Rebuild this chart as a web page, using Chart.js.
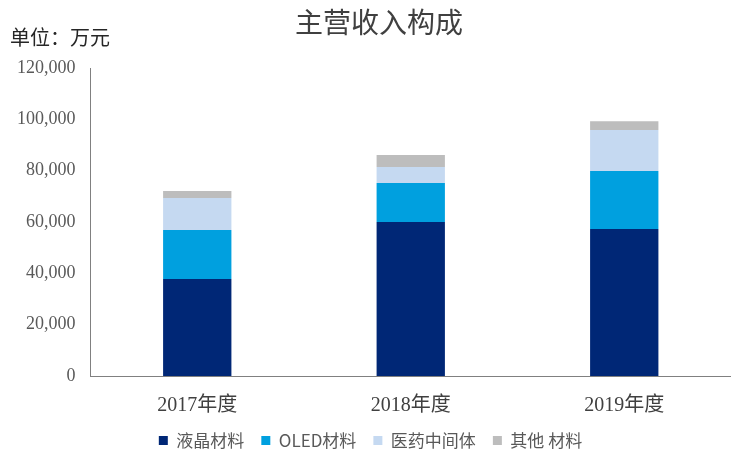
<!DOCTYPE html>
<html>
<head>
<meta charset="utf-8">
<script src="https://cdn.jsdelivr.net/npm/chart.js@4/dist/chart.umd.min.js"></script>
<style>
  html, body { margin: 0; padding: 0; background: #fff; }
  #wrap { width: 731px; height: 450px; }
</style>
</head>
<body>
<div id="wrap"><canvas id="barChart" width="731" height="450"></canvas></div>
<script>
// データ
const years = ["2017年度", "2018年度", "2019年度"];
const lcd = [37800, 60000, 57300];
const oled = [19100, 15200, 22600];
const pharma = [12450, 6200, 15900];
const other = [2750, 4700, 3500];

const serif = "'Liberation Serif', 'Noto Sans CJK SC', serif";
const cjk = "'Noto Sans CJK SC', sans-serif";

// タイトルと単位
const titlePlugin = {
    id: "titles",
    afterDraw(chart) {
        const c = chart.ctx;
        c.save();
        c.fillStyle = "#404040";
        c.font = "28px " + cjk;
        c.textAlign = "center";
        c.textBaseline = "middle";
        c.fillText("主营收入构成", 379, 22);
        c.font = "20px " + cjk;
        c.textAlign = "left";
        c.fillStyle = "#262626";
        c.fillText("单位：万元", 10, 37);
        c.restore();
    },
};

new Chart(document.getElementById("barChart"), {
    type: "bar",
    data: {
        labels: years,
        datasets: [
            { label: "液晶材料", data: lcd, backgroundColor: "#002776" },
            { label: "OLED材料", data: oled, backgroundColor: "#00a0df" },
            { label: "医药中间体", data: pharma, backgroundColor: "#c5d9f1" },
            { label: "其他 材料", data: other, backgroundColor: "#bdbdbd" },
        ],
    },
    options: {
        responsive: false,
        animation: false,
        layout: { padding: { top: 68, right: 0, left: 10, bottom: -9 } },
        datasets: { bar: { barPercentage: 0.64, categoryPercentage: 0.5 } },
        plugins: {
            tooltip: { enabled: false },
            legend: {
                position: "bottom",
                labels: {
                    boxWidth: 9,
                    boxHeight: 9,
                    color: "#595959",
                    font: { family: cjk, size: 17 },
                    padding: 17,
                },
            },
        },
        scales: {
            x: {
                stacked: true,
                grid: { display: false },
                border: { display: true, color: "#808080" },
                ticks: { color: "#404040", font: { family: serif, size: 20 }, padding: 10 },
                afterFit: (scale) => { scale.height = 39; },
            },
            y: {
                stacked: true,
                min: 0,
                max: 120000,
                grid: { display: false },
                border: { display: true, color: "#808080" },
                ticks: {
                    stepSize: 20000,
                    color: "#595959",
                    font: { family: serif, size: 18 },
                    padding: 7,
                    callback: (v) => v.toLocaleString("en-US"),
                },
            },
        },
    },
    plugins: [titlePlugin],
});
</script>
</body>
</html>
